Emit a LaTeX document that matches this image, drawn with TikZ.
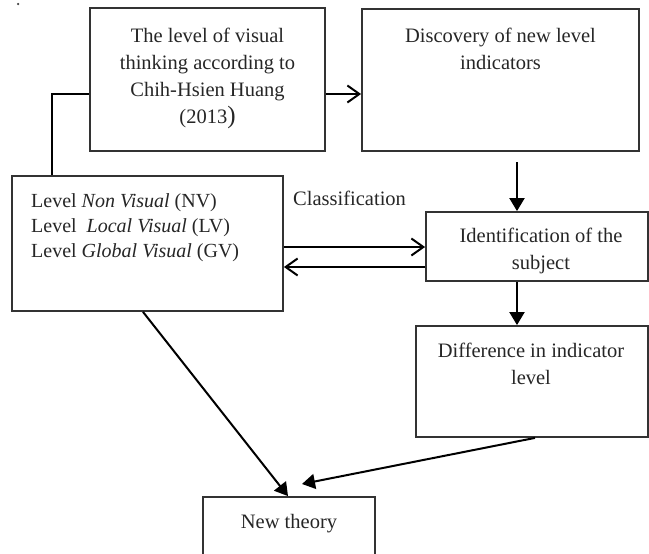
\documentclass[tikz,border=0pt]{standalone}
\usepackage{fontspec}
\setmainfont{Liberation Serif}
\usetikzlibrary{arrows.meta}
\begin{document}
\begin{tikzpicture}[x=1pt,y=-1pt,
  box/.style={draw=black!80,line width=1.8pt,inner sep=0pt},
  txt/.style={inner sep=0pt,anchor=north,align=center,text=black!85,font=\fontsize{20.5}{27}\selectfont},
  opentip/.style={line width=2pt,-{Straight Barb[length=12pt,width=17pt,line width=2pt]}},
  tritip/.style={line width=2pt,-{Triangle[length=13pt,width=15pt]}},
  conn/.style={line width=2pt}]
\useasboundingbox (0,0) rectangle (649,554);
\clip (0,0) rectangle (649,554);
% boxes
\node[box,minimum width=235pt,minimum height=143pt] (b1) at (207.5,79.5) {};
\node[box,minimum width=277pt,minimum height=142pt] (b2) at (500.5,80) {};
\node[box,minimum width=271pt,minimum height=135pt] (b3) at (147.5,243.5) {};
\node[box,minimum width=222pt,minimum height=69pt] (b4) at (537,246.5) {};
\node[box,minimum width=232pt,minimum height=111pt] (b5) at (532,381.5) {};
\node[box,minimum width=172pt,minimum height=68pt] (b6) at (289,531) {};
% texts
\node[txt] (t1) at (207.5,28) {The level of visual\\thinking according to\\Chih-Hsien Huang\\(2013{\fontsize{25}{27}\selectfont )}};
\node[txt] (t2) at (500.5,28) {Discovery of new level\\indicators};
\node[txt,anchor=north west,align=left,font=\fontsize{20}{25}\selectfont] (t3) at (31,193)
  {Level \textit{Non Visual} (NV)\\Level\ \ \textit{Local Visual} (LV)\\Level \textit{Global Visual} (GV)};
\node[txt] (t4) at (541,228) {Identification of the\\subject};
\node[txt] (t5) at (531,343) {Difference in indicator\\level};
\node[txt] (t6) at (289,514) {New theory};
\node[txt,anchor=base west] (cls) at (293,205) {Classification};
\node[circle,fill=black!75,inner sep=0pt,minimum size=2.5pt] (dot) at (18,4) {};
% helper coordinates
\coordinate (j1) at (52,94);
\coordinate (s2) at (517,162);
\coordinate (c1) at (0,247);
\coordinate (c2) at (0,267);
\coordinate (d1) at (143,0);
\coordinate (d2) at (288,0);
\coordinate (d3) at (535,0);
\coordinate (e1) at (302,484);
% connectors
\draw[conn] (b1.west |- j1) -- (j1) -- (j1 |- b3.north);
\draw[opentip] (b1.east |- j1) -- (b2.west |- j1);
\draw[tritip] (s2) -- (s2 |- b4.north);
\draw[opentip] (b3.east |- c1) -- (b4.west |- c1);
\draw[opentip] (b4.west |- c2) -- (b3.east |- c2);
\draw[tritip] (b4.south -| s2) -- (b5.north -| s2);
\draw[tritip] (b3.south -| d1) -- (b6.north -| d2);
\draw[tritip] (b5.south -| d3) -- (e1);
\end{tikzpicture}
\end{document}
